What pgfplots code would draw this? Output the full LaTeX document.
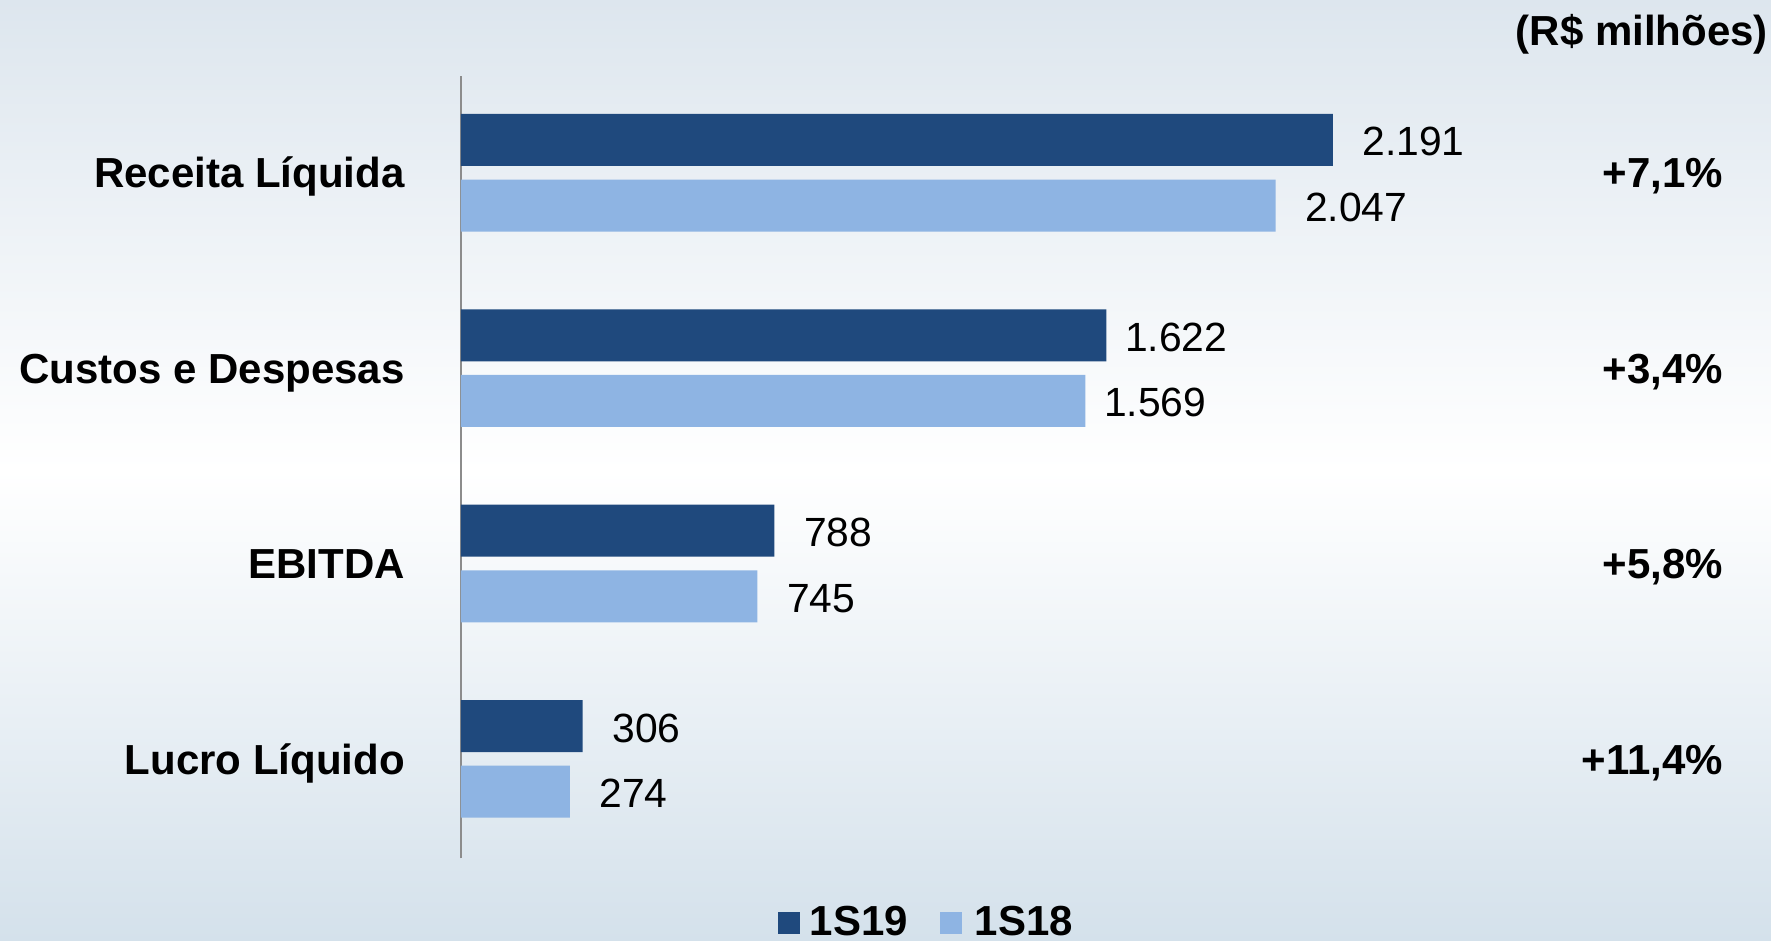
\documentclass[border=0pt]{standalone}
\usepackage{fontspec}
\setmainfont{Liberation Sans}
\usepackage{pgfplots}
\pgfplotsset{compat=1.18}
\definecolor{dark}{RGB}{31,73,125}
\definecolor{light}{RGB}{142,180,227}
\definecolor{bgtop}{RGB}{221,230,238}
\definecolor{bgbot}{RGB}{212,225,235}
\newcommand{\lbl}{\fontsize{10.5}{12}\selectfont\bfseries}
\begin{document}
\begin{tikzpicture}
\useasboundingbox (0,0) rectangle (442.75pt,235.25pt);
\shade[top color=bgtop, bottom color=bgbot, middle color=white] (0,0) rectangle (442.75pt,235.25pt);
\begin{axis}[
    at={(115.2pt,20.65pt)}, anchor=south west,
    x=0.0995pt, y=48.85pt,
    xmin=0, xmax=3300, ymin=-0.509, ymax=3.497,
    xbar, bar width=13pt,
    axis x line=none, axis y line*=left,
    y axis line style={draw=black!45, line width=0.5pt},
    ytick={0,1,2,3},
    yticklabels={Lucro Líquido, EBITDA, Custos e Despesas, Receita Líquida},
    major tick length=0pt,
    yticklabel style={font=\lbl, anchor=base east, xshift=-10.5pt, yshift=-3.8pt},
    clip=false,
    nodes near coords,
    visualization depends on={rawx \as \rawx},
    every node near coord/.append style={anchor=west,
        xshift={3.9pt-2.7pt*and(\rawx>1500,\rawx<2000)}, yshift=-0.5pt,
        font=\fontsize{10.2}{12}\selectfont, text=black},
    /pgf/number format/1000 sep={.},
    /pgf/number format/assume math mode=true,
    legend style={at={(0.357,-0.083)}, anchor=center, draw=none, fill=none,
        legend columns=2, font=\lbl,
        /tikz/every even column/.append style={column sep=6pt}},
    legend image code/.code={\fill[#1] (0pt,-2.75pt) rectangle (5.5pt,2.75pt);},
]
\addplot[fill=dark, draw=none, bar shift=8.2pt]
    coordinates {(306,0) (788,1) (1622,2) (2191,3)};
\addlegendentry{\hspace{0.4pt}1S19}
\addplot[fill=light, draw=none, bar shift=-8.2pt]
    coordinates {(274,0) (745,1) (1569,2) (2047,3)};
\addlegendentry{\hspace{1.2pt}1S18}

\node[anchor=base east, inner sep=0pt, font=\lbl, yshift=-3.8pt] at (axis cs:3173,3) {+7,1\%};
\node[anchor=base east, inner sep=0pt, font=\lbl, yshift=-3.8pt] at (axis cs:3173,2) {+3,4\%};
\node[anchor=base east, inner sep=0pt, font=\lbl, yshift=-3.8pt] at (axis cs:3173,1) {+5,8\%};
\node[anchor=base east, inner sep=0pt, font=\lbl, yshift=-3.8pt] at (axis cs:3173,0) {+11,4\%};
\end{axis}
\node[anchor=east, inner sep=0pt, font=\lbl] at (442.2pt,226.8pt) {(R\$ milhões)};
\end{tikzpicture}
\end{document}
